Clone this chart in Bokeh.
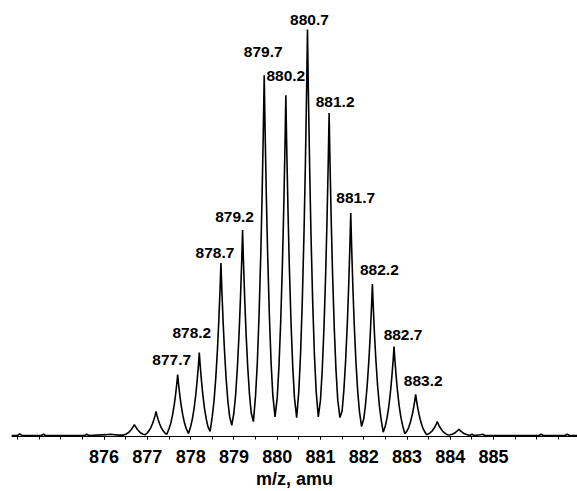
from bokeh.plotting import figure
from bokeh.models import Range1d, FixedTicker, ColumnDataSource
from bokeh.core.properties import value
from bokeh.embed import file_html
from bokeh.resources import INLINE

# ---------------- data ----------------
# centroid m/z of the isotope peaks and their relative heights (%)
peak_mz = [876.7, 877.2, 877.7, 878.2, 878.7, 879.2, 879.7, 880.2,
           880.7, 881.2, 881.7, 882.2, 882.7, 883.2, 883.7, 884.2]
peak_height = [2.7, 5.9, 15.0, 20.4, 42.5, 50.6, 88.7, 83.8,
               100.0, 79.4, 54.8, 37.3, 21.9, 10.1, 3.4, 1.5]

# labelled peaks
label_text = ["877.7", "878.2", "878.7", "879.2", "879.7", "880.2",
              "880.7", "881.2", "881.7", "882.2", "882.7", "883.2"]

# profile trace (m/z, relative intensity %)
trace_mz = [
    873.86, 874.00, 874.05, 874.10, 874.55, 874.60, 874.65, 875.55, 875.60, 875.65,
    876.05, 876.15, 876.25, 876.35, 876.45,
    876.50, 876.54, 876.58, 876.62, 876.65, 876.68, 876.70, 876.72, 876.75, 876.78, 876.82, 876.86, 876.90, 876.95,
    877.00, 877.04, 877.08, 877.12, 877.15, 877.18, 877.20, 877.22, 877.25, 877.28, 877.32, 877.36, 877.40, 877.45,
    877.50, 877.54, 877.58, 877.62, 877.65, 877.68, 877.70, 877.72, 877.75, 877.78, 877.82, 877.86, 877.90, 877.95,
    878.00, 878.04, 878.08, 878.12, 878.15, 878.18, 878.20, 878.22, 878.25, 878.28, 878.32, 878.36, 878.40, 878.45,
    878.50, 878.54, 878.58, 878.62, 878.65, 878.68, 878.70, 878.72, 878.75, 878.78, 878.82, 878.86, 878.90, 878.95,
    879.00, 879.04, 879.08, 879.12, 879.15, 879.18, 879.20, 879.22, 879.25, 879.28, 879.32, 879.36, 879.40, 879.45,
    879.50, 879.54, 879.58, 879.62, 879.65, 879.68, 879.70, 879.72, 879.75, 879.78, 879.82, 879.86, 879.90, 879.95,
    880.00, 880.04, 880.08, 880.12, 880.15, 880.18, 880.20, 880.22, 880.25, 880.28, 880.32, 880.36, 880.40, 880.45,
    880.50, 880.54, 880.58, 880.62, 880.65, 880.68, 880.70, 880.72, 880.75, 880.78, 880.82, 880.86, 880.90, 880.95,
    881.00, 881.04, 881.08, 881.12, 881.15, 881.18, 881.20, 881.22, 881.25, 881.28, 881.32, 881.36, 881.40, 881.45,
    881.50, 881.54, 881.58, 881.62, 881.65, 881.68, 881.70, 881.72, 881.75, 881.78, 881.82, 881.86, 881.90, 881.95,
    882.00, 882.04, 882.08, 882.12, 882.15, 882.18, 882.20, 882.22, 882.25, 882.28, 882.32, 882.36, 882.40, 882.45,
    882.50, 882.54, 882.58, 882.62, 882.65, 882.68, 882.70, 882.72, 882.75, 882.78, 882.82, 882.86, 882.90, 882.95,
    883.00, 883.04, 883.08, 883.12, 883.15, 883.18, 883.20, 883.22, 883.25, 883.28, 883.32, 883.36, 883.40, 883.45,
    883.50, 883.54, 883.58, 883.62, 883.65, 883.68, 883.70, 883.72, 883.75, 883.78, 883.82, 883.86, 883.90, 883.95,
    884.00, 884.04, 884.08, 884.12, 884.15, 884.18, 884.20, 884.22, 884.25, 884.28, 884.32, 884.36, 884.40, 884.45,
    884.50, 884.55, 884.70, 884.75, 884.80, 886.05, 886.10, 886.15, 886.65, 886.70, 886.75, 886.94,
]
trace_int = [
    0.0, 0.0, 0.4, 0.0, 0.0, 0.3, 0.0, 0.0, 0.3, 0.0,
    0.2, 0.3, 0.2, 0.1, 0.1,
    0.3, 0.54, 0.9, 1.35, 1.8, 2.3, 2.7, 2.3, 1.8, 1.35, 0.9, 0.54, 0.3, 0.2,
    0.65, 1.2, 1.95, 2.95, 3.9, 5.0, 5.9, 5.0, 3.9, 2.95, 1.95, 1.2, 0.65, 0.3,
    1.65, 3.0, 4.95, 7.5, 9.9, 12.75, 15.0, 12.75, 9.9, 7.5, 4.95, 3.0, 1.65, 0.5,
    2.2, 4.1, 6.7, 10.2, 13.5, 17.3, 20.4, 17.3, 13.5, 10.2, 6.7, 4.1, 2.2, 1.0,
    4.7, 8.5, 14.0, 21.3, 28.1, 36.1, 42.5, 36.1, 28.1, 21.3, 14.0, 8.5, 4.7, 2.5,
    5.6, 10.1, 16.7, 25.3, 33.4, 43.0, 50.6, 43.0, 33.4, 25.3, 16.7, 10.1, 5.6, 3.4,
    9.8, 17.7, 29.3, 44.4, 58.5, 75.4, 88.7, 75.4, 58.5, 44.4, 29.3, 17.7, 9.8, 4.6,
    9.2, 16.8, 27.7, 41.9, 55.3, 71.2, 83.8, 71.2, 55.3, 41.9, 27.7, 16.8, 9.2, 4.4,
    11.0, 20.0, 33.0, 50.0, 66.0, 85.0, 100.0, 85.0, 66.0, 50.0, 33.0, 20.0, 11.0, 4.6,
    8.7, 15.9, 26.2, 39.7, 52.4, 67.5, 79.4, 67.5, 52.4, 39.7, 26.2, 15.9, 8.7, 4.4,
    6.0, 11.0, 18.1, 27.4, 36.2, 46.6, 54.8, 46.6, 36.2, 27.4, 18.1, 11.0, 6.0, 2.2,
    4.1, 7.5, 12.3, 18.7, 24.6, 31.7, 37.3, 31.7, 24.6, 18.7, 12.3, 7.5, 4.1, 0.8,
    2.4, 4.4, 7.2, 11.0, 14.5, 18.6, 21.9, 18.6, 14.5, 11.0, 7.2, 4.4, 2.4, 0.4,
    1.1, 2.0, 3.3, 5.1, 6.7, 8.6, 10.1, 8.6, 6.7, 5.1, 3.3, 2.0, 1.1, 0.2,
    0.4, 0.7, 1.1, 1.7, 2.2, 2.9, 3.4, 2.9, 2.2, 1.7, 1.1, 0.7, 0.4, 0.1,
    0.2, 0.3, 0.5, 0.75, 1.0, 1.3, 1.5, 1.3, 1.0, 0.75, 0.5, 0.3, 0.2, 0.0,
    0.3, 0.0, 0.2, 0.3, 0.0, 0.0, 0.3, 0.0, 0.0, 0.3, 0.0, 0.0,
]

# axis ticks
tick_values = [876, 877, 878, 879, 880, 881, 882, 883, 884, 885]
minor_tick_values = [874 + 0.5 * i for i in range(26)]
x_label = "m/z, amu"

# ---------------- layout / styling ----------------
label_dx = [-6, -7.5, -6, -8, -1, 0, 2, 6, 5, 7, 9, 7.5]
label_dy = [-15, -20, -10, -13, -23, -19, -9, -11, -15, -14, -12, -13]

height_of = dict(zip(peak_mz, peak_height))
label_mz = [float(t) for t in label_text]
label_y = [height_of[m] for m in label_mz]

p = figure(width=577, height=491, output_backend="svg", toolbar_location=None,
           x_range=Range1d(873.86, 886.94), y_range=Range1d(-0.25, 107.14),
           y_axis_location=None, min_border_left=11, min_border_right=0,
           min_border_top=0, min_border_bottom=55)
p.outline_line_color = None
p.xgrid.visible = False
p.ygrid.visible = False
p.background_fill_color = "white"
p.border_fill_color = "white"

p.line(trace_mz, trace_int, line_color="black", line_width=1.6)

src = ColumnDataSource(dict(x=label_mz, y=label_y, text=label_text, dx=label_dx, dy=label_dy))
p.text(x="x", y="y", text="text", source=src, x_offset="dx", y_offset="dy",
       text_align="center", text_baseline="middle",
       text_font=value("Liberation Sans"), text_font_style="bold",
       text_font_size="15.5px", text_color="black")

ax = p.xaxis[0]
ax.ticker = FixedTicker(ticks=tick_values, minor_ticks=minor_tick_values)
ax.axis_line_color = "black"
ax.axis_line_width = 1
ax.major_tick_in = 0
ax.major_tick_out = 3
ax.minor_tick_in = 0
ax.minor_tick_out = 3
ax.major_tick_line_color = "black"
ax.minor_tick_line_color = "black"
ax.major_label_text_font = "Liberation Sans"
ax.major_label_text_font_style = "bold"
ax.major_label_text_font_size = "18px"
ax.major_label_text_color = "black"
ax.major_label_standoff = 10
ax.axis_label = x_label
ax.axis_label_text_font = "Liberation Sans"
ax.axis_label_text_font_style = "bold"
ax.axis_label_text_font_size = "18px"
ax.axis_label_text_color = "black"
ax.axis_label_standoff = 3

open("out.html", "w").write(file_html(p, INLINE))
